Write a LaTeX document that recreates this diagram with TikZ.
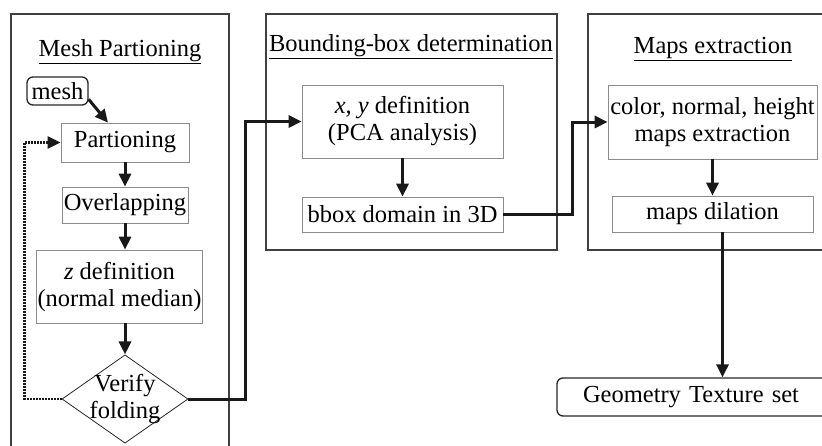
\documentclass[tikz,border=0pt]{standalone}
\usepackage{fontspec}
\setmainfont{Liberation Serif}
\usetikzlibrary{arrows.meta,shapes.geometric}
\begin{document}
\begin{tikzpicture}[x=1pt,y=-1pt,
    font=\fontsize{24.5}{27}\selectfont,
    stage/.style={draw=black!75,line width=1.1pt},
    title/.style={inner sep=0pt},
    proc/.style={draw=black!45,line width=0.7pt,inner sep=1pt,align=center},
    term/.style={draw=black!85,line width=1.3pt,rounded corners=6pt,inner sep=2pt},
    decide/.style={diamond,draw=black!85,line width=0.8pt,inner sep=-8pt,align=center},
    flow/.style={draw=black!90,line width=3pt,-{Triangle[length=13pt,width=12pt]}},
    loopback/.style={flow,line width=2.4pt,dash pattern=on 1.6pt off 1.4pt}]
  \useasboundingbox (0,0) rectangle (822,445);
  \clip (0,0) rectangle (822,445);
  \draw[stage] (11,14) rectangle (229,470);
  \draw[stage] (266,14) rectangle (557,250);
  \draw[stage] (588,14) rectangle (850,250);
  \node[title] (meshtitle) at (120,52) {\underline{Mesh Partioning}};
  \node[title] (bboxtitle) at (411,47) {\underline{Bounding-box determination}};
  \node[title] (mapstitle) at (713,49) {\underline{Maps extraction}};
  \node[term,minimum width=61,minimum height=28] (mesh) at (57.5,91) {mesh};
  \node[proc,minimum width=128,minimum height=39] (part) at (125,142.5) {Partioning};
  \node[proc,minimum width=126,minimum height=36] (overlap) at (125,205) {Overlapping};
  \node[proc,minimum width=161,minimum height=73] (zdef) at (119.5,286.5) {\textit{z} definition\\(normal median)};
  \node[decide,minimum width=126,minimum height=84] (verify) at (125,399) {Verify\\folding};
  \node[proc,minimum width=201,minimum height=73] (xydef) at (402.5,121.5) {\textit{x, y} definition\\(PCA analysis)};
  \node[proc,minimum width=201,minimum height=35] (bbox) at (402.5,214.5) {bbox domain in 3D};
  \node[proc,minimum width=209,minimum height=74] (maps) at (712.5,122) {color, normal, height\\maps extraction};
  \node[proc,minimum width=201,minimum height=36] (dilation) at (712.5,214) {maps dilation};
  \node[term,minimum height=38,inner xsep=26pt,text width=221pt,align=left] (geom) at (693.5,397) {Geometry Texture set};
  \begin{scope}
    \draw[flow] (mesh.-15) -- ([xshift=-17pt]part.north);
    \draw[flow] (part) -- (overlap);
    \draw[flow] (overlap.south) -- (overlap.south |- zdef.north);
    \draw[flow] (zdef.south -| verify.north) -- (verify.north);
    \draw[loopback] (verify.west) -- ++(-37,0) |- (part.west);
    \draw[flow] (verify.east) -- ++(57,0) |- (xydef.west);
    \draw[flow] (xydef) -- (bbox);
    \draw[flow] (bbox.east) -- ++(69,0) |- (maps.west);
    \draw[flow] (maps) -- (dilation);
    \draw[flow] ([xshift=10pt]dilation.south) -- ([xshift=10pt]dilation.south |- geom.north);
  \end{scope}
\end{tikzpicture}
\end{document}
